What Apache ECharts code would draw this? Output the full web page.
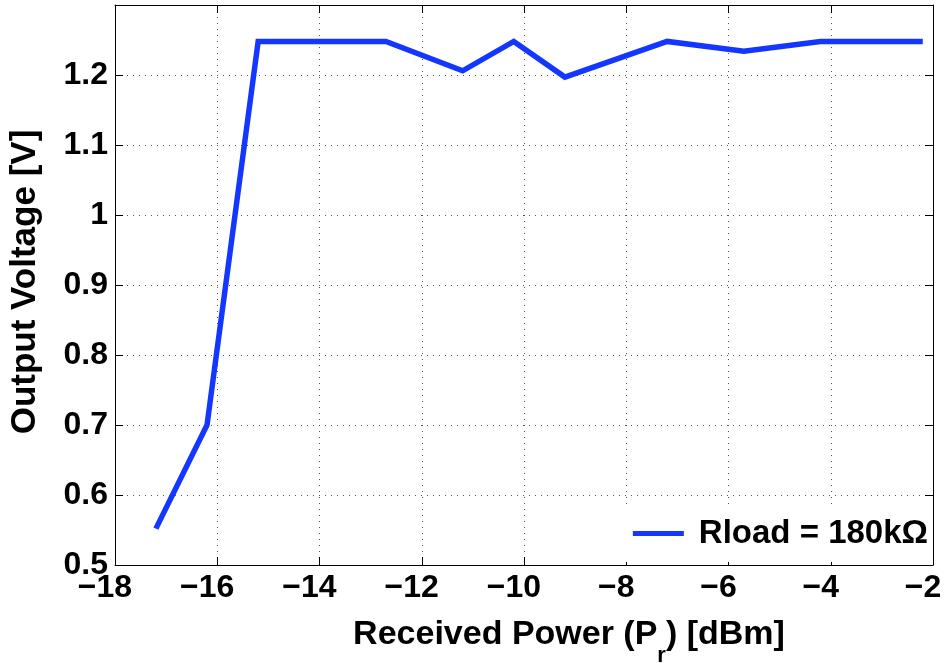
<!DOCTYPE html>
<html>
<head>
<meta charset="utf-8">
<script src="https://cdn.jsdelivr.net/npm/echarts@6/dist/echarts.min.js"></script>
<style>
  html, body { margin: 0; padding: 0; background: #fff; }
  #chart { width: 946px; height: 663px; }
</style>
</head>
<body>
<div id="chart"></div>
<script>
// Received power sweep (dBm) and measured rectifier output voltage (V)
const receivedPowerDbm = [-17.2, -16.2, -15.2, -12.7, -11.2, -10.2, -9.2, -7.2, -5.7, -4.2, -2.2];
const outputVoltage = [0.552, 0.70, 1.248, 1.248, 1.206, 1.248, 1.197, 1.248, 1.234, 1.248, 1.248];
const seriesName = 'Rload = 180k\u03A9';

const xMin = -18, xMax = -2, xStep = 2;
const yMin = 0.5, yMax = 1.3, yStep = 0.1;

const FONT = '"Liberation Sans", Arial, Helvetica, sans-serif';
const MINUS = '\u2212';

const chart = echarts.init(document.getElementById('chart'));

const frameLine = { show: true, lineStyle: { color: '#000', width: 1 } };
const innerTicks = { show: true, inside: true, length: 8, lineStyle: { color: '#000', width: 1 } };
const dottedGrid = { show: true, lineStyle: { color: '#555', width: 1, type: [1, 5] } };

chart.setOption({
  animation: false,
  backgroundColor: '#fff',
  grid: { left: 115, right: 13, top: 5, bottom: 98, containLabel: false, outerBoundsMode: 'none' },
  xAxis: [
    {
      type: 'value', position: 'bottom',
      min: xMin, max: xMax, interval: xStep,
      axisLine: frameLine, axisTick: innerTicks, splitLine: dottedGrid,
      axisLabel: {
        margin: 7, color: '#000', fontSize: 32, fontWeight: 'bold', fontFamily: FONT,
        padding: [0, 20, 0, 0],
        formatter: v => (v < 0 ? MINUS + Math.abs(v) : String(v))
      },
      name: 'Received Power (P{sub|r}) [dBm]',
      nameLocation: 'middle', nameGap: 38,
      nameTextStyle: {
        color: '#000', fontSize: 34, fontWeight: 'bold', fontFamily: FONT,
        padding: [0, 0, 0, 90],
        rich: {
          sub: { fontSize: 22, fontWeight: 'bold', fontFamily: FONT, color: '#000', padding: [42, 0, 0, 0] }
        }
      }
    },
    {
      type: 'value', position: 'top',
      min: xMin, max: xMax, interval: xStep,
      axisLine: frameLine, axisTick: innerTicks,
      axisLabel: { show: false }, splitLine: { show: false }
    }
  ],
  yAxis: [
    {
      type: 'value', position: 'left',
      min: yMin, max: yMax, interval: yStep,
      axisLine: frameLine, axisTick: innerTicks, splitLine: dottedGrid,
      axisLabel: {
        margin: 7, color: '#000', fontSize: 32, fontWeight: 'bold', fontFamily: FONT,
        formatter: v => (v > 1.25 ? '' : String(Math.round(v * 10) / 10))
      },
      name: 'Output Voltage [V]',
      nameLocation: 'middle', nameGap: 72, nameRotate: 90,
      nameTextStyle: { color: '#000', fontSize: 35, fontWeight: 'bold', fontFamily: FONT, padding: [0, 0, 0, 6] }
    },
    {
      type: 'value', position: 'right',
      min: yMin, max: yMax, interval: yStep,
      axisLine: frameLine, axisTick: innerTicks,
      axisLabel: { show: false }, splitLine: { show: false }
    }
  ],
  legend: {
    data: [seriesName],
    right: 14, top: 507,
    orient: 'vertical',
    backgroundColor: '#fff',
    borderWidth: 0,
    padding: [10, 4, 12, 12],
    icon: 'rect', itemWidth: 51, itemHeight: 5,
    textStyle: { color: '#000', fontSize: 33, fontWeight: 'bold', fontFamily: FONT, padding: [0, 0, 0, 10] }
  },
  series: [
    {
      name: seriesName,
      type: 'line',
      data: receivedPowerDbm.map((p, i) => [p, outputVoltage[i]]),
      showSymbol: false, symbol: 'none',
      lineStyle: { color: '#1437ff', width: 5.5, join: 'miter' },
      itemStyle: { color: '#1437ff' }
    }
  ]
});
</script>
</body>
</html>
